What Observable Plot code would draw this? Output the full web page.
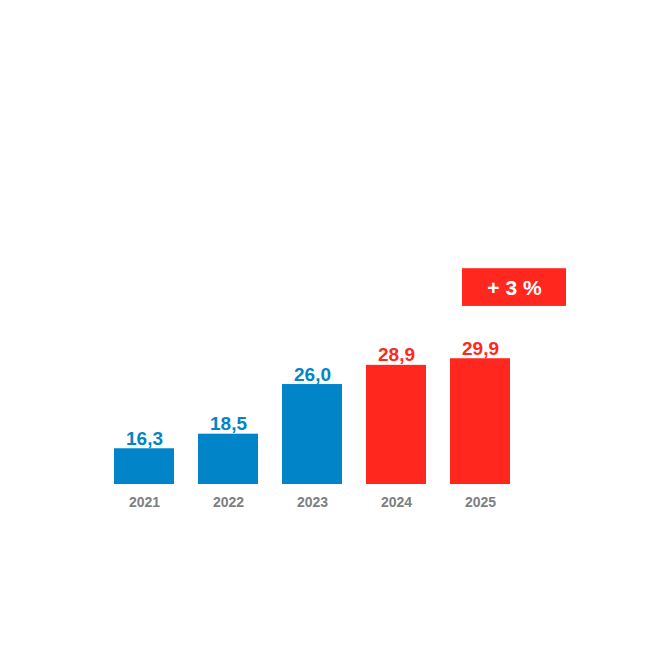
<!DOCTYPE html>
<html>
<head>
<meta charset="utf-8">
<script src="https://cdn.jsdelivr.net/npm/d3@7"></script>
<script src="https://cdn.jsdelivr.net/npm/@observablehq/plot@0.6"></script>
<style>
  html, body { margin: 0; padding: 0; background: #fff; }
</style>
</head>
<body>
<div id="chart"></div>
<script>
const years = ["2021", "2022", "2023", "2024", "2025"];
const values = [16.3, 18.5, 26.0, 28.9, 29.9];
const kinds = ["actual", "actual", "actual", "forecast", "forecast"];
const badgeLabel = ["+ 3 %"];
const badgeRange = [37.8, 43.5];

const blue = "#0284C8";
const red = "#FF271E";

const data = years.map((y, i) => ({ year: y, value: values[i], kind: kinds[i] }));
const badge = [{ year: "2025", y1: badgeRange[0], y2: badgeRange[1], label: badgeLabel[0] }];

const colorOf = d => d.kind === "actual" ? blue : red;

const plot = Plot.plot({
  width: 657,
  height: 657,
  marginLeft: 88,
  marginRight: 121,
  marginTop: 0,
  marginBottom: 0,
  style: { fontFamily: "Liberation Sans, Arial, sans-serif", background: "#fff" },
  x: { domain: years, padding: 0.284, axis: null },
  y: { domain: [10.9, 43.5], range: [484, 268.2], axis: null },
  marks: [
    Plot.barY(data, { x: "year", y1: 10.9, y2: "value", fill: colorOf }),
    Plot.text(data, {
      x: "year", y: "value", text: d => d.value.toFixed(1).replace(".", ","),
      fill: colorOf, fontSize: 19, fontWeight: "bold", lineAnchor: "bottom", dy: -4
    }),
    Plot.text(data, {
      x: "year", y: 10.9, text: "year", fill: "#7f7f7f",
      fontSize: 14, fontWeight: "bold", lineAnchor: "middle", dy: 18
    }),
    Plot.barY(badge, { x: "year", y1: "y1", y2: "y2", fill: red, insetLeft: 12, insetRight: -56 }),
    Plot.text(badge, {
      x: "year", y: d => (d.y1 + d.y2) / 2, text: "label", fill: "#fff",
      fontSize: 21, fontWeight: "bold", dx: 34, dy: 1
    })
  ]
});
document.getElementById("chart").appendChild(plot);
</script>
</body>
</html>
